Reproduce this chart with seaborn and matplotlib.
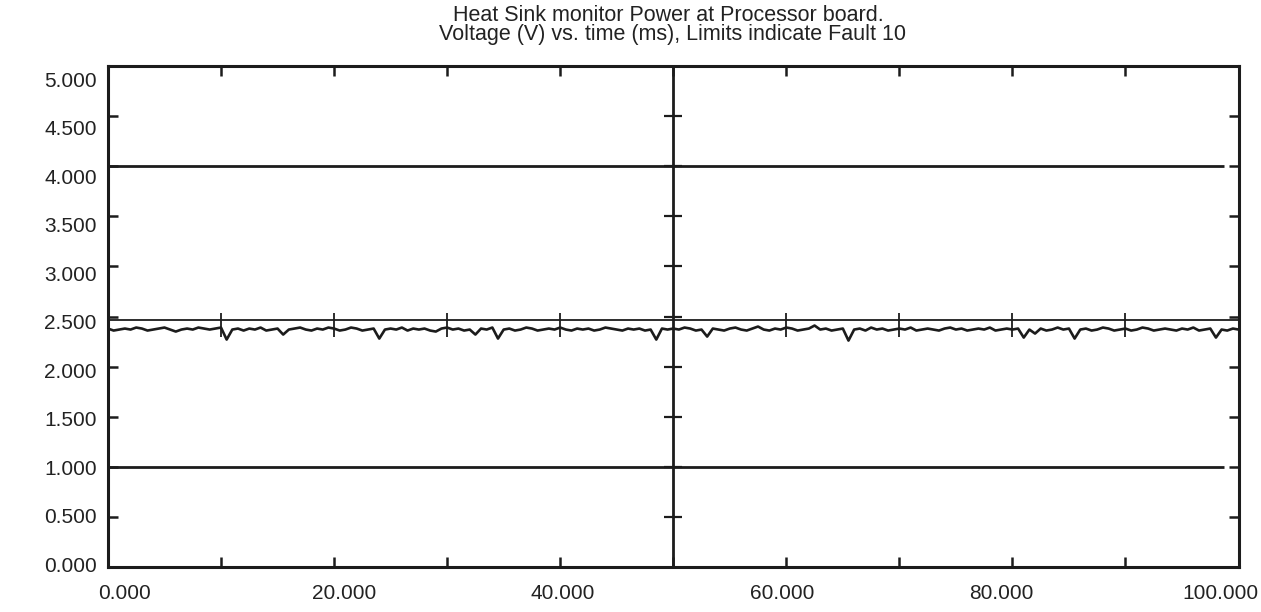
import numpy as np
import pandas as pd
import matplotlib
matplotlib.use("Agg")
import matplotlib.pyplot as plt
import matplotlib.transforms as mtransforms
import seaborn as sns

# ---- data ----
title_lines = ["Heat Sink monitor Power at Processor board.",
               "Voltage (V) vs. time (ms), Limits indicate Fault 10"]
time_step = 0.5  # ms between samples
signal_v = [
    2.38, 2.36, 2.37, 2.38, 2.37, 2.39, 2.38, 2.36, 2.37, 2.38, 2.39, 2.37, 2.35, 2.37, 2.38, 2.37, 2.39, 2.38, 2.37, 2.38,
    2.39, 2.27, 2.37, 2.38, 2.36, 2.38, 2.37, 2.39, 2.36, 2.37, 2.38, 2.32, 2.37, 2.38, 2.39, 2.37, 2.36, 2.38, 2.37, 2.39,
    2.38, 2.36, 2.37, 2.39, 2.38, 2.36, 2.37, 2.38, 2.28, 2.37, 2.38, 2.37, 2.39, 2.36, 2.38, 2.37, 2.38, 2.36, 2.35, 2.38,
    2.39, 2.37, 2.38, 2.36, 2.37, 2.32, 2.38, 2.37, 2.39, 2.28, 2.37, 2.38, 2.36, 2.37, 2.39, 2.38, 2.36, 2.37, 2.38, 2.37,
    2.39, 2.37, 2.36, 2.38, 2.37, 2.38, 2.36, 2.37, 2.39, 2.38, 2.37, 2.36, 2.38, 2.37, 2.38, 2.36, 2.37, 2.27, 2.38, 2.37,
    2.38, 2.37, 2.39, 2.38, 2.36, 2.37, 2.30, 2.38, 2.37, 2.36, 2.38, 2.39, 2.37, 2.36, 2.38, 2.40, 2.37, 2.36, 2.38, 2.37,
    2.39, 2.38, 2.36, 2.37, 2.38, 2.41, 2.37, 2.38, 2.36, 2.37, 2.38, 2.26, 2.37, 2.38, 2.36, 2.39, 2.37, 2.38, 2.36, 2.37,
    2.38, 2.37, 2.39, 2.36, 2.37, 2.38, 2.37, 2.36, 2.38, 2.39, 2.37, 2.38, 2.36, 2.37, 2.38, 2.37, 2.39, 2.36, 2.37, 2.38,
    2.37, 2.38, 2.29, 2.37, 2.33, 2.38, 2.36, 2.37, 2.39, 2.37, 2.38, 2.28, 2.37, 2.38, 2.36, 2.37, 2.39, 2.38, 2.36, 2.37,
    2.38, 2.36, 2.37, 2.39, 2.38, 2.36, 2.37, 2.38, 2.37, 2.36, 2.38, 2.37, 2.39, 2.36, 2.37, 2.38, 2.29, 2.37, 2.36, 2.38,
    2.37,
]
limit_levels = [4.0, 1.0]          # fault limits (V)
limit_end = 98.7                   # limit lines stop short of the right edge
ref_level = 2.47                   # reference line (V)
ref_tick_times = [10, 20, 30, 40, 60, 70, 80, 90]
mid_time = 50
mid_tick_levels = [0.5, 1.0, 1.5, 2.0, 2.5, 3.0, 3.5, 4.0, 4.5]
x_major = [0, 20, 40, 60, 80, 100]
x_minor = [10, 30, 50, 70, 90]
y_ticks = [0.0, 0.5, 1.0, 1.5, 2.0, 2.5, 3.0, 3.5, 4.0, 4.5, 5.0]

time_ms = [i * time_step for i in range(len(signal_v))]
df = pd.DataFrame({"time": time_ms, "volt": signal_v})

sns.set_style("white")
plt.rcParams["font.family"] = ["Liberation Sans", "DejaVu Sans"]
ink = "#1c1c1c"

fig = plt.figure(figsize=(12.61, 6.12), dpi=100)
ax = fig.add_axes([0.0856, 0.0735, 0.8966, 0.8186])

# signal
sns.lineplot(data=df, x="time", y="volt", ax=ax, color=ink, lw=1.9)

# limit lines
for lv in limit_levels:
    ax.hlines(lv, 0, limit_end, color=ink, lw=2.0)
# reference line with its tick marks
ax.hlines(ref_level, 0, 100, color=ink, lw=1.3)
ax.vlines(ref_tick_times, ref_level - 0.17, ref_level + 0.07, color=ink, lw=1.3)

# middle vertical axis with cross ticks
ax.vlines(mid_time, 0, 5, color=ink, lw=2.0)
ax.hlines(mid_tick_levels, mid_time - 0.8, mid_time + 0.8, color=ink, lw=1.6)

ax.set_xlim(0, 100)
ax.set_ylim(0, 5)
ax.set_xticks(x_major)
ax.set_xticks(x_minor, minor=True)
ax.set_xticklabels([f"{v:.3f}" for v in x_major])
ax.set_yticks(y_ticks)
ax.set_yticklabels([f"{v:.3f}" for v in y_ticks])
ax.set_xlabel("")
ax.set_ylabel("")

ax.tick_params(axis="both", which="both", direction="in", color=ink,
               width=1.8, length=7, top=True, right=True, bottom=True, left=True,
               labelsize=15, labelcolor="#222222")
ax.tick_params(axis="x", which="both", pad=12)
ax.tick_params(axis="y", which="both", pad=8)

for sp in ax.spines.values():
    sp.set_visible(True)
    sp.set_color(ink)
    sp.set_linewidth(2.2)

# the scanned original's labels sit on a slightly compressed scale; nudge them
for lab, v in zip(ax.get_xticklabels(), x_major):
    dx = (17 - 35 * v / 100) / 100.0
    lab.set_transform(lab.get_transform() + mtransforms.ScaledTranslation(dx, 0, fig.dpi_scale_trans))
for lab, v in zip(ax.get_yticklabels(), y_ticks):
    dy = -(-3 + 16 * v / 5) / 100.0
    lab.set_transform(lab.get_transform() + mtransforms.ScaledTranslation(0, dy, fig.dpi_scale_trans))

fig.text(0.530, 0.975, title_lines[0], ha="center", va="center", fontsize=15.5, color="#222222")
fig.text(0.533, 0.944, title_lines[1], ha="center", va="center", fontsize=15.5, color="#222222")

fig.savefig("out.png", dpi=100)
